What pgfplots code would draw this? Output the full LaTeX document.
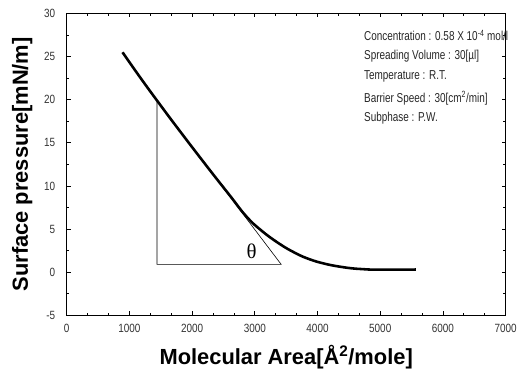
\documentclass[border=0pt]{standalone}
\usepackage{pgfplots}
\pgfplotsset{compat=1.18}
\usepackage{fontspec}
\setmainfont{Liberation Sans}
\newfontfamily\seriffont{Liberation Serif}
\begin{document}
\begin{tikzpicture}
\begin{axis}[
  scale only axis,
  width=440bp, height=302.5bp,
  xmin=0, xmax=7000, ymin=-5, ymax=30,
  xtick={0,1000,...,7000}, ytick={-5,0,...,30},
  minor x tick num=2, minor y tick num=1,
  tick align=inside,
  major tick length=4bp, minor tick length=2.5bp,
  axis line style={line width=1.1pt},
  every tick/.style={black, line width=0.7pt},
  /pgf/number format/assume math mode=true,
  /pgf/number format/1000 sep={},
  ticklabel style={font=\fontsize{10}{11}\selectfont, text=black!80},
  xticklabel={\scalebox{1}[1.2]{\pgfmathprintnumber{\tick}}},
  yticklabel={\scalebox{1}[1.2]{\pgfmathprintnumber{\tick}}},
  xticklabel style={yshift=-5bp},
  yticklabel style={xshift=-8bp},
  xlabel={\textbf{Molecular Area[Å\textsuperscript{2}/mole]}},
  ylabel={\textbf{Surface pressure[mN/m]}},
  label style={font=\fontsize{22}{24}\selectfont},
  xlabel style={yshift=-6bp},
  ylabel style={yshift=5bp},
  clip=false,
]
\addplot[black, line width=2.6pt, smooth, tension=0.75] coordinates {
  (890,25.5) (1150,22.8) (1430,20.0) (1800,16.4) (2275,11.9) (2600,8.9)
  (2860,6.5) (3100,4.85) (3390,3.3) (3650,2.2) (3870,1.5) (4100,1.0)
  (4340,0.65) (4600,0.4) (4820,0.3) (5200,0.28) (5570,0.3)
};
\addplot[black, line width=0.6pt] coordinates {
  (1440,19.9) (1440,0.9) (3420,0.9) (1440,19.9)
};
\node[font=\seriffont\fontsize{21}{22}\selectfont] at (axis cs:2950,2.4) {θ};
\node[anchor=north west, align=left, inner sep=0pt, text=black!85] at (axis cs:4740,28.1)
  {\scalebox{1}[1.3]{\fontsize{10}{12}\selectfont Concentration : 0.58 X 10\textsuperscript{-4} mol/l}};
\node[anchor=north west, align=left, inner sep=0pt, text=black!85] at (axis cs:4740,25.72)
  {\scalebox{1}[1.3]{\fontsize{10}{12}\selectfont Spreading Volume : 30[µl]}};
\node[anchor=north west, align=left, inner sep=0pt, text=black!85] at (axis cs:4740,23.34)
  {\scalebox{1}[1.3]{\fontsize{10}{12}\selectfont Temperature : R.T.}};
\node[anchor=north west, align=left, inner sep=0pt, text=black!85] at (axis cs:4740,20.96)
  {\scalebox{1}[1.3]{\fontsize{10}{12}\selectfont Barrier Speed : 30[cm\textsuperscript{2}/min]}};
\node[anchor=north west, align=left, inner sep=0pt, text=black!85] at (axis cs:4740,18.58)
  {\scalebox{1}[1.3]{\fontsize{10}{12}\selectfont Subphase : P.W.}};
\path (rel axis cs:-0.152,-0.1917) rectangle (rel axis cs:1.0295,1.0446);
\end{axis}
\end{tikzpicture}
\end{document}
